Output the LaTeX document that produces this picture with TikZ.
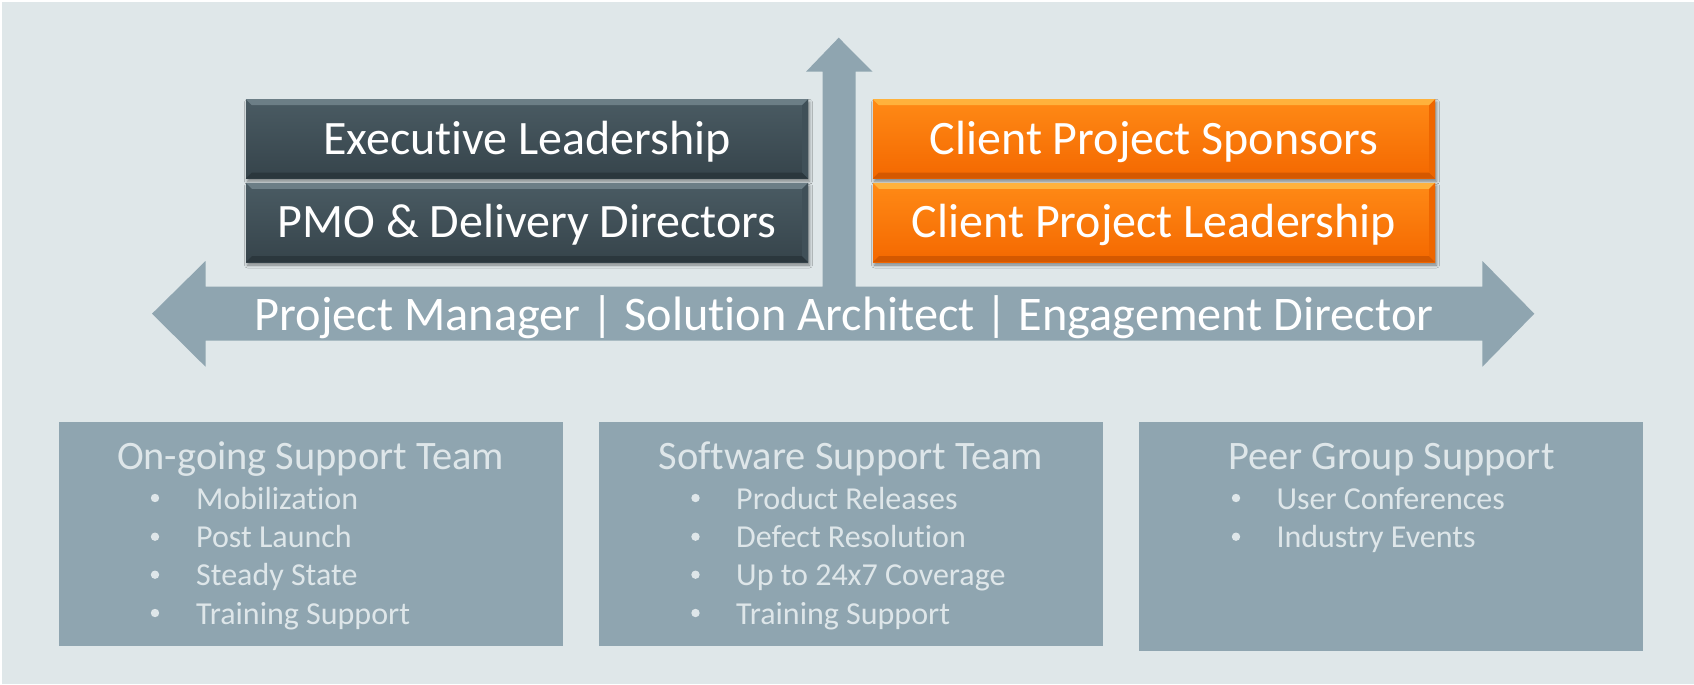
\documentclass[tikz,border=0pt]{standalone}
\usepackage{fontspec}
\setmainfont{Carlito}[Ligatures=NoCommon]
\usetikzlibrary{calc,shadows.blur}

\definecolor{bgcol}{RGB}{223,231,233}
\definecolor{steel}{RGB}{143,165,176}
\definecolor{paletext}{RGB}{222,230,233}
\definecolor{slateTop}{RGB}{74,91,99}
\definecolor{slateBot}{RGB}{54,68,75}
\definecolor{slateHi}{RGB}{108,126,134}
\definecolor{slateLo}{RGB}{43,55,61}
\definecolor{slateSide}{RGB}{64,80,88}
\definecolor{orTop}{RGB}{255,138,22}
\definecolor{orBot}{RGB}{244,104,0}
\definecolor{orHi}{RGB}{255,178,60}
\definecolor{orLo}{RGB}{212,88,0}
\definecolor{orSide}{RGB}{238,102,0}

\tikzset{
  tile/.style={rectangle, inner sep=0pt, minimum width=562pt, minimum height=79pt,
    blur shadow={shadow xshift=1.5pt, shadow yshift=-3pt, shadow blur radius=3pt, shadow opacity=45}},
  slatetile/.style={tile, top color=slateTop, bottom color=slateBot},
  orangetile/.style={tile, top color=orTop, bottom color=orBot},
  tiletext/.style={anchor=base, text=white, inner sep=0pt, font=\fontsize{48}{48}\selectfont},
  teambox/.style={rectangle, fill=steel, inner sep=0pt, minimum width=504pt},
  teamtitle/.style={anchor=base, text=paletext, inner sep=0pt, font=\fontsize{40.4}{40.4}\selectfont},
  teamitem/.style={anchor=base west, text=paletext, inner sep=0pt, font=\fontsize{32}{32}\selectfont},
  roles/.style={anchor=base, text=white, inner sep=0pt, font=\fontsize{48.3}{48.3}\selectfont}
}

% bevelled edges of a tile: #1 node, #2 top edge, #3 bottom edge, #4 right edge
\newcommand{\bevelize}[4]{%
  \fill[#2] (#1.north west) -- (#1.north east) -- ($(#1.north east)+(-6,6)$) -- ($(#1.north west)+(6,6)$) -- cycle;
  \fill[#3] (#1.south west) -- (#1.south east) -- ($(#1.south east)+(-6,-6)$) -- ($(#1.south west)+(6,-6)$) -- cycle;
  \fill[#4] (#1.north east) -- (#1.south east) -- ($(#1.south east)+(-6,-6)$) -- ($(#1.north east)+(-6,6)$) -- cycle;
}

\begin{document}
\begin{tikzpicture}[x=1pt,y=-1pt]
\useasboundingbox (0,0) rectangle (1694,685);
\fill[white] (0,0) rectangle (1694,685);
\fill[bgcol] (2,2) rectangle (1694,684);

% block arrows: double arrow across, single arrow upward
\fill[steel] (152,313.7) -- (205.5,261) -- (205.5,286.7) -- (822.5,286.7) -- (822.5,71.7)
  -- (806,71.7) -- (838.7,37.7) -- (872.6,71.7) -- (855.5,71.7) -- (855.5,286.7)
  -- (1482.4,286.7) -- (1482.4,261) -- (1534.3,313.7) -- (1482.4,366.7) -- (1482.4,340.7)
  -- (205.5,340.7) -- (205.5,366.7) -- cycle;
\node[roles] (roles) at (844,330) {Project Manager | Solution Architect | Engagement Director};

% internal leadership tiles
\node[slatetile] (exec) at (527,138.8) {};
\bevelize{exec}{slateHi}{slateLo}{slateSide}
\node[tiletext] (exect) at (527,154) {Executive Leadership};
\node[slatetile] (pmo) at (527,222.5) {};
\bevelize{pmo}{slateHi}{slateLo}{slateSide}
\node[tiletext] (pmot) at (527,237.7) {PMO \& Delivery Directors};

% client tiles
\node[orangetile] (spons) at (1154,138.8) {};
\bevelize{spons}{orHi}{orLo}{orSide}
\node[tiletext] (sponst) at (1154,154) {Client Project Sponsors};
\node[orangetile] (clead) at (1154,222.5) {};
\bevelize{clead}{orHi}{orLo}{orSide}
\node[tiletext] (cleadt) at (1154,237.7) {Client Project Leadership};

% support teams
\node[teambox, minimum height=223.7pt] (ongo) at (310.6,533.85) {};
\node[teambox, minimum height=223.7pt] (soft) at (851,533.85) {};
\node[teambox, minimum height=228.7pt] (peer) at (1391.4,536.35) {};

\node[teamtitle] (ongoT) at (310.6,469.3) {On-going Support Team};
\node[teamtitle] (softT) at (851,469.3) {Software Support Team};
\node[teamtitle] (peerT) at (1391.4,469.3) {Peer Group Support};

\foreach \b/\txt [count=\i] in {509/Mobilization, 547.7/Post Launch, 585.7/Steady State, 624/Training Support}{
  \fill[paletext] (155,\b-11) circle[radius=4.2];
  \node[teamitem] (ongo\i) at (196,\b) {\txt};
}
\foreach \b/\txt [count=\i] in {509/Product Releases, 547.7/Defect Resolution, 585.7/Up to 24x7 Coverage, 624/Training Support}{
  \fill[paletext] (695.5,\b-11) circle[radius=4.2];
  \node[teamitem] (soft\i) at (736,\b) {\txt};
}
\foreach \b/\txt [count=\i] in {509/User Conferences, 547.7/Industry Events}{
  \fill[paletext] (1236,\b-11) circle[radius=4.2];
  \node[teamitem] (peer\i) at (1276.3,\b) {\txt};
}
\end{tikzpicture}
\end{document}
